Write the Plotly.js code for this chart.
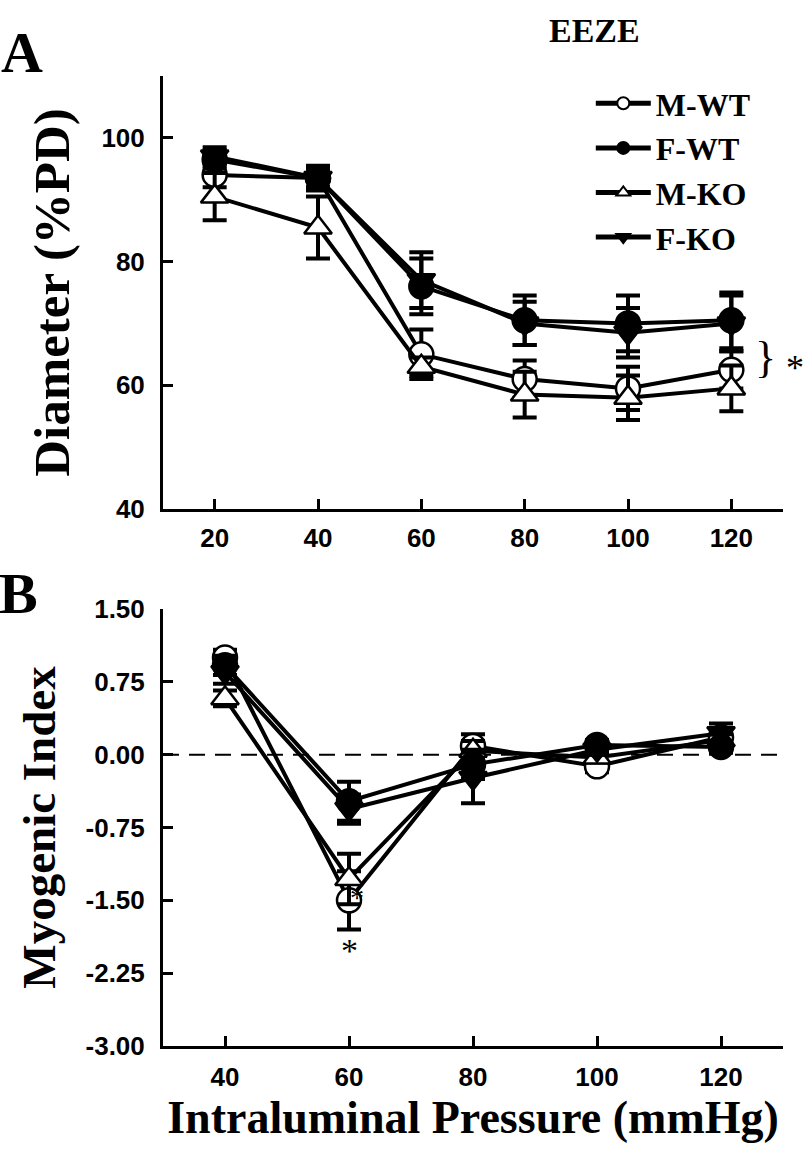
<!DOCTYPE html>
<html>
<head>
<meta charset="utf-8">
<script src="https://cdn.plot.ly/plotly-3.0.1.min.js"></script>
<style>html,body{margin:0;padding:0;background:#fff;}#chart{width:808px;height:1154px;}</style>
</head>
<body>
<div id="chart"></div>
<script>
// ---- Data ----
const seriesNames = ["M-WT", "F-WT", "M-KO", "F-KO"];

// Panel A: Diameter (%PD) vs pressure
const pressureA = [20, 40, 60, 80, 100, 120];
const mwtA = [94, 93.5, 65, 61, 59.5, 62.5];
const mwtAErr = [2, 1.5, 4, 3, 3.5, 3];
const fwtA = [96.5, 93.5, 76, 70.5, 70, 70.5];
const fwtAErr = [1.5, 1.5, 4.5, 4, 4.5, 4.5];
const mkoA = [90.5, 85.5, 63, 58.5, 58, 59.5];
const mkoAErr = [3.8, 5, 1.5, 3.7, 3.6, 3.7];
const fkoA = [97, 93.5, 77, 70, 68.5, 70];
const fkoAErr = [1.5, 2, 4.5, 3.5, 4, 4.5];

// Panel B: Myogenic index vs pressure
const pressureB = [40, 60, 80, 100, 120];
const mwtB = [1.0, -1.5, 0.09, -0.12, 0.18];
const mwtBErr = [0.08, 0.3, 0.12, 0.06, 0.08];
const fwtB = [0.92, -0.48, -0.1, 0.1, 0.08];
const fwtBErr = [0.1, 0.2, 0.15, 0.05, 0.06];
const mkoB = [0.58, -1.28, 0.04, -0.03, 0.15];
const mkoBErr = [0.08, 0.26, 0.1, 0.05, 0.06];
const fkoB = [0.85, -0.56, -0.24, 0.05, 0.22];
const fkoBErr = [0.12, 0.15, 0.26, 0.05, 0.1];

const yTickValsB = [-3, -2.25, -1.5, -0.75, 0, 0.75, 1.5];
const yTickTextB = ["-3.00", "-2.25", "-1.50", "-0.75", "0.00", "0.75", "1.50"];

// ---- Styles ----
const serif = "Liberation Serif, Times New Roman, serif";
const sans = "Liberation Sans, Arial, sans-serif";
const styles = {
  "M-WT": {symbol: "circle", color: "#ffffff", rank: 1},
  "F-WT": {symbol: "circle", color: "#000000", rank: 2},
  "M-KO": {symbol: "triangle-up", color: "#ffffff", rank: 3},
  "F-KO": {symbol: "triangle-down", color: "#000000", rank: 4}
};

function mk(name, x, y, err, xa, ya, legend) {
  const s = styles[name];
  return {
    type: "scatter", mode: "lines+markers", name: name,
    x: x, y: y, xaxis: xa, yaxis: ya,
    showlegend: legend, legendrank: s.rank, cliponaxis: false,
    line: {color: "#000", width: 4},
    marker: {symbol: s.symbol, size: 24, color: s.color, line: {color: "#000", width: 2.5}},
    error_y: {type: "data", array: err, visible: true, color: "#000", thickness: 4, width: 12}
  };
}

const traces = [
  mk("M-WT", pressureA, mwtA, mwtAErr, "x", "y", true),
  mk("M-KO", pressureA, mkoA, mkoAErr, "x", "y", true),
  mk("F-KO", pressureA, fkoA, fkoAErr, "x", "y", true),
  mk("F-WT", pressureA, fwtA, fwtAErr, "x", "y", true),
  mk("M-WT", pressureB, mwtB, mwtBErr, "x2", "y2", false),
  mk("M-KO", pressureB, mkoB, mkoBErr, "x2", "y2", false),
  mk("F-KO", pressureB, fkoB, fkoBErr, "x2", "y2", false),
  mk("F-WT", pressureB, fwtB, fwtBErr, "x2", "y2", false)
];

const axisCommon = {
  showline: true, linecolor: "#000", linewidth: 3,
  ticks: "inside", ticklen: 10, tickwidth: 3, tickcolor: "#000",
  showgrid: false, zeroline: false,
  tickfont: {family: sans, size: 26, color: "#000", weight: "bold"},
  ticklabelstandoff: 10
};

const layout = {
  width: 808, height: 1154,
  margin: {l: 163, r: 25, t: 76, b: 108},
  paper_bgcolor: "#fff", plot_bgcolor: "#fff",
  showlegend: true,
  legend: {
    x: 0.69, y: 1.0, xanchor: "left", yanchor: "top",
    font: {family: serif, size: 32, color: "#000", weight: "bold"},
    itemsizing: "constant", itemwidth: 55, bgcolor: "rgba(0,0,0,0)", tracegroupgap: 0
  },
  xaxis: Object.assign({}, axisCommon, {domain: [0, 1], anchor: "y", range: [10, 130], tickvals: pressureA, ticklabelstandoff: 4}),
  yaxis: Object.assign({}, axisCommon, {domain: [0.5536, 1], anchor: "x", range: [40, 110], tickvals: [40, 60, 80, 100],
    title: {text: "Diameter (%PD)", font: {family: serif, size: 51, color: "#000", weight: "bold"}, standoff: 16}}),
  xaxis2: Object.assign({}, axisCommon, {domain: [0, 1], anchor: "y2", range: [30, 130], tickvals: pressureB, ticklabelstandoff: 6,
    title: {text: "Intraluminal Pressure (mmHg)", font: {family: serif, size: 46, color: "#000", weight: "bold"}, standoff: 10}}),
  yaxis2: Object.assign({}, axisCommon, {domain: [0, 0.4505], anchor: "x2", range: [-3, 1.5],
    tickvals: yTickValsB, ticktext: yTickTextB,
    title: {text: "Myogenic Index", font: {family: serif, size: 47, color: "#000", weight: "bold"}, standoff: 16}}),
  shapes: [{
    type: "line", xref: "x2", yref: "y2", x0: 30, x1: 130, y0: 0, y1: 0,
    line: {color: "#000", width: 2, dash: "16px,10px"}, layer: "below"
  }],
  annotations: [
    {text: "A", xref: "paper", yref: "paper", x: -0.227, y: 1.024, xanchor: "center", yanchor: "middle", showarrow: false,
     font: {family: serif, size: 58, color: "#000", weight: "bold"}},
    {text: "B", xref: "paper", yref: "paper", x: -0.233, y: 0.466, xanchor: "center", yanchor: "middle", showarrow: false,
     font: {family: serif, size: 58, color: "#000", weight: "bold"}},
    {text: "EEZE", xref: "paper", yref: "paper", x: 0.696, y: 1.047, xanchor: "center", yanchor: "middle", showarrow: false,
     font: {family: serif, size: 34, color: "#000", weight: "bold"}},
    {text: "}", xref: "paper", yref: "paper", x: 0.971, y: 0.71, xanchor: "center", yanchor: "middle", showarrow: false,
     font: {family: serif, size: 44, color: "#000"}},
    {text: "*", xref: "paper", yref: "paper", x: 1.02, y: 0.699, xanchor: "center", yanchor: "middle", showarrow: false,
     font: {family: serif, size: 36, color: "#000"}},
    {text: "*", xref: "x2", yref: "y2", x: 60, y: -2.02, showarrow: false,
     font: {family: serif, size: 34, color: "#000"}},
    {text: "*", xref: "x2", yref: "y2", x: 61.3, y: -1.47, showarrow: false,
     font: {family: serif, size: 28, color: "#000"}}
  ]
};

Plotly.newPlot("chart", traces, layout, {staticPlot: true, displayModeBar: false});
</script>
</body>
</html>
